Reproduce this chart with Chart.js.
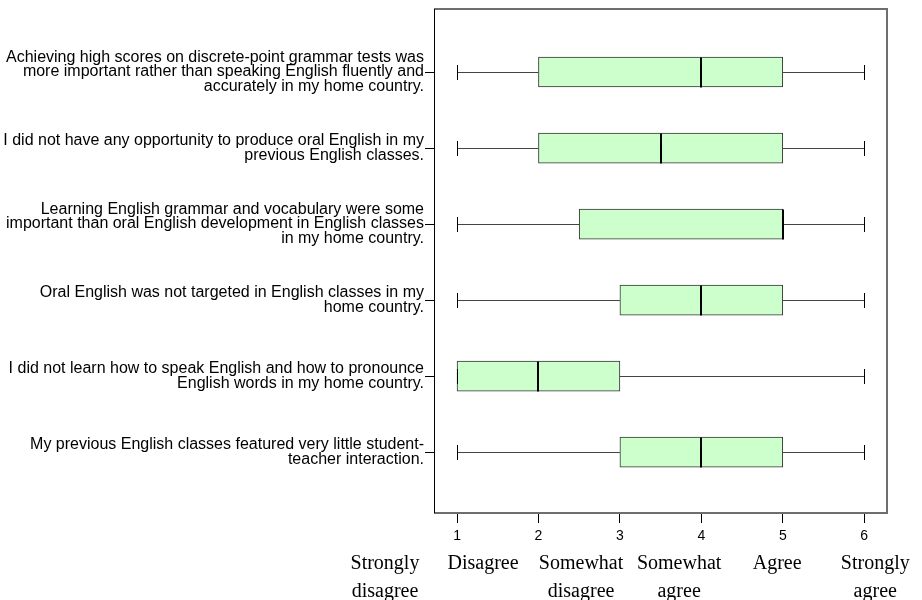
<!DOCTYPE html>
<html>
<head>
<meta charset="utf-8">
<script src="https://cdn.jsdelivr.net/npm/chart.js@4"></script>
<style>
  html, body { margin: 0; padding: 0; background: #fff; }
  #wrap { width: 922px; height: 600px; }
</style>
</head>
<body>
<div id="wrap"><canvas id="box"></canvas></div>
<script>
// statements (top to bottom), already broken into lines
const questions = [
  ["Achieving high scores on discrete-point grammar tests was", "more important rather than speaking English fluently and", "accurately in my home country."],
  ["I did not have any opportunity to produce oral English in my", "previous English classes."],
  ["Learning English grammar and vocabulary were some", "important than oral English development in English classes", "in my home country."],
  ["Oral English was not targeted in English classes in my", "home country."],
  ["I did not learn how to speak English and how to pronounce", "English words in my home country."],
  ["My previous English classes featured very little student-", "teacher interaction."],
];

// box plot stats per statement
const lowWhisker  = [1, 1, 1, 1, 1, 1];
const q1          = [2, 2, 2.5, 3, 1, 3];
const median      = [4, 3.5, 5, 4, 2, 4];
const q3          = [5, 5, 5, 5, 3, 5];
const highWhisker = [6, 6, 6, 6, 6, 6];

// likert scale
const scaleValues = [1, 2, 3, 4, 5, 6];
const scaleNames = [
  ["Strongly", "disagree"], ["Disagree"], ["Somewhat", "disagree"],
  ["Somewhat", "agree"], ["Agree"], ["Strongly", "agree"],
];

const rows = questions.map((_, i) => i + 1);
const setTicks = (vals) => (scale) => { scale.ticks = vals.map((v) => ({ value: v })); };

// whiskers, caps, medians + frame
const boxExtras = {
  id: "boxExtras",
  afterDatasetsDraw(chart) {
    const { ctx, scales: { x, y }, chartArea: a } = chart;
    const cap = 7.5;
    ctx.save();
    rows.forEach((r, i) => {
      const yy = Math.round(y.getPixelForValue(r)) + 0.5;
      const xl = x.getPixelForValue(lowWhisker[i]);
      const xq1 = x.getPixelForValue(q1[i]);
      const xq3 = x.getPixelForValue(q3[i]);
      const xh = x.getPixelForValue(highWhisker[i]);
      ctx.strokeStyle = "#444";
      ctx.lineWidth = 1;
      ctx.beginPath();
      if (xq1 > xl) { ctx.moveTo(xl, yy); ctx.lineTo(xq1, yy); }
      if (xh > xq3) { ctx.moveTo(xq3, yy); ctx.lineTo(xh, yy); }
      ctx.stroke();
      ctx.strokeStyle = "#000";
      ctx.beginPath();
      [xl, xh].forEach((px) => {
        const p = Math.round(px) + 0.5;
        ctx.moveTo(p, yy - cap); ctx.lineTo(p, yy + cap);
      });
      ctx.stroke();
      // median
      const xm = Math.round(x.getPixelForValue(median[i]));
      ctx.lineWidth = 2;
      ctx.beginPath();
      ctx.moveTo(xm, yy - 15); ctx.lineTo(xm, yy + 15);
      ctx.stroke();
    });
    // frame top/right/bottom
    ctx.strokeStyle = "#6e6e6e";
    ctx.lineWidth = 2;
    ctx.beginPath();
    ctx.moveTo(a.left, a.top); ctx.lineTo(a.right, a.top);
    ctx.lineTo(a.right, a.bottom); ctx.lineTo(a.left, a.bottom);
    ctx.stroke();
    ctx.strokeStyle = "#000";
    ctx.lineWidth = 1;
    ctx.beginPath();
    ctx.moveTo(a.left + 0.5, a.top); ctx.lineTo(a.left + 0.5, a.bottom);
    ctx.stroke();
    ctx.restore();
  },
};

new Chart(document.getElementById("box"), {
  type: "bar",
  data: {
    datasets: [{
      data: rows.map((r, i) => ({ y: r, x: [q1[i], q3[i]] })),
      backgroundColor: "#ccffcc",
      borderColor: "#333",
      borderWidth: 1,
      borderSkipped: false,
      barThickness: 30,
    }],
  },
  options: {
    indexAxis: "y",
    responsive: true,
    maintainAspectRatio: false,
    animation: false,
    layout: { padding: { top: 9, right: 35, left: 0, bottom: 0 } },
    scales: {
      y: {
        type: "linear",
        reverse: true,
        offset: false,
        min: 0.171,
        max: 6.8,
        afterBuildTicks: setTicks(rows),
        afterFit: (s) => { s.width = 434; s.paddingTop = 0; s.paddingBottom = 0; },
        grid: { drawOnChartArea: false, offset: false, tickLength: 9, color: "#000" },
        border: { display: false },
        ticks: {
          autoSkip: false,
          padding: 1,
          color: "#000",
          font: { family: "Liberation Sans, Arial", size: 16, lineHeight: 0.92 },
          callback: (v) => questions[v - 1] || "",
        },
      },
      x: {
        type: "linear",
        position: "bottom",
        min: 0.717,
        max: 6.28,
        afterBuildTicks: setTicks(scaleValues),
        afterFit: (s) => { s.height = 29; },
        grid: { drawOnChartArea: false, tickLength: 10, color: "#000" },
        border: { display: false },
        ticks: {
          padding: 5,
          color: "#000",
          font: { family: "Liberation Sans, Arial", size: 14 },
          callback: (v) => String(v),
        },
      },
      x2: {
        type: "linear",
        position: "bottom",
        min: 1.5,
        max: 6.12,
        afterBuildTicks: setTicks(scaleValues),
        afterFit: (s) => { s.height = 58; },
        grid: { display: false },
        border: { display: false },
        ticks: {
          padding: 0,
          color: "#000",
          font: { family: "Liberation Serif, Times New Roman", size: 20, lineHeight: 1.4 },
          callback: (v) => scaleNames[v - 1] || "",
        },
      },
    },
    plugins: {
      legend: { display: false },
      tooltip: { enabled: false },
    },
  },
  plugins: [boxExtras],
});
</script>
</body>
</html>
